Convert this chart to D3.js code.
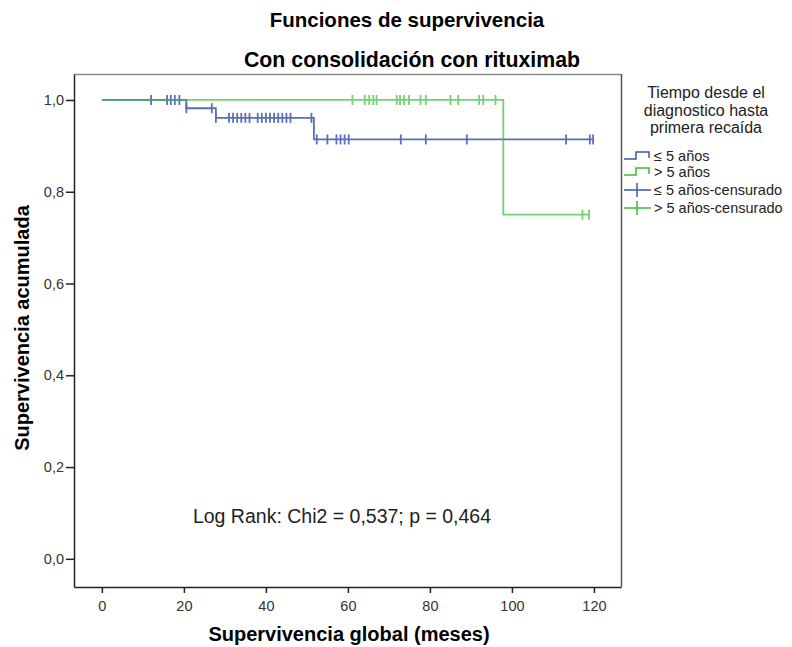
<!DOCTYPE html>
<html lang="es">
<head>
  <meta charset="UTF-8">
  <title>Funciones de supervivencia</title>
  <script src="https://d3js.org/d3.v7.min.js"></script>
  <style>
    body { margin: 0; background: #fff; }
    svg { display: block; font-family: "Liberation Sans", Arial, sans-serif; }
  </style>
</head>
<body>
  <svg id="chart"></svg>
  <script>
    // Kaplan-Meier steps (time in months, survival after the step)
    const blueStepTimes = [0, 20.6, 27.8, 51.7];
    const blueStepSurv = [1, 0.982, 0.961, 0.914];
    const blueEnd = 119.8;
    const blueCensorTimes = [12, 15.9, 16.8, 17.8, 18.9, 20.6, 26.8, 27.8, 31, 32, 33, 34, 35, 36, 38, 39, 40,
      41, 42, 43, 44, 45, 46, 51.1, 52.4, 55, 57.2, 58.2, 59.2, 60.2, 72.9, 79, 89, 113.2, 119, 119.8];

    const greenStepTimes = [0, 97.9];
    const greenStepSurv = [1, 0.75];
    const greenEnd = 118.8;
    const greenCensorTimes = [61.1, 64.1, 65.2, 66.2, 67, 71.9, 72.7, 73.7, 74.9, 77.7, 79, 85, 86.9,
      92, 93, 96, 117.2, 118.8];

    const xTicks = [0, 20, 40, 60, 80, 100, 120];
    const yTicks = [0, 0.2, 0.4, 0.6, 0.8, 1.0];
    const legendTitle = ["Tiempo desde el", "diagnostico hasta", "primera recaída"];
    const legendLabels = ["\u2264 5 años", "> 5 años", "\u2264 5 años-censurado", "> 5 años-censurado"];

    const width = 792, height = 647;
    const plot = { left: 74, right: 621, top: 74, bottom: 587 };
    const blue = "#3d57ab", green = "#3cbc3c";
    const font = "'Liberation Sans', Arial, sans-serif";

    const svg = d3.select("#chart").attr("width", width).attr("height", height);

    const x = d3.scaleLinear().domain([-6.8, 126.6]).range([plot.left, plot.right]);
    const y = d3.scaleLinear().domain([-0.0614, 1.0566]).range([plot.bottom, plot.top]);

    const locale = d3.formatLocale({ decimal: ",", thousands: ".", grouping: [3], currency: ["", "€"] });
    const fmt = locale.format(".1f");

    // frame
    svg.append("line").attr("x1", plot.left).attr("x2", plot.right)
      .attr("y1", plot.top + 0.5).attr("y2", plot.top + 0.5).attr("stroke", "#8a8a8a").attr("stroke-width", 1.5);
    svg.append("line").attr("x1", plot.right + 0.5).attr("x2", plot.right + 0.5)
      .attr("y1", plot.top).attr("y2", plot.bottom).attr("stroke", "#555").attr("stroke-width", 1.5);

    // axes
    const xAxis = svg.append("g").attr("transform", `translate(0,${plot.bottom})`)
      .call(d3.axisBottom(x).tickValues(xTicks).tickSize(6).tickPadding(8).tickSizeOuter(0));
    const yAxis = svg.append("g").attr("transform", `translate(${plot.left},0)`)
      .call(d3.axisLeft(y).tickValues(yTicks).tickFormat(fmt).tickSize(8).tickPadding(2).tickSizeOuter(0));
    [xAxis, yAxis].forEach(g => {
      g.select(".domain").attr("stroke", "#222").attr("stroke-width", 1.5);
      g.selectAll(".tick line").attr("stroke", "#222").attr("stroke-width", 1.5);
      g.selectAll(".tick text").attr("fill", "#333").style("font-size", "14.5px").style("font-family", font);
    });

    // step path builder
    function stepPoints(times, surv, end) {
      const pts = [];
      times.forEach((t, i) => {
        if (i > 0) pts.push([t, surv[i - 1]]);
        pts.push([t, surv[i]]);
      });
      pts.push([end, surv[surv.length - 1]]);
      return pts;
    }
    function survAt(times, surv, t) {
      let s = surv[0];
      times.forEach((tt, i) => { if (tt <= t) s = surv[i]; });
      return s;
    }
    const line = d3.line().x(d => x(d[0])).y(d => y(d[1]));

    const series = [
      { times: blueStepTimes, surv: blueStepSurv, end: blueEnd, censors: blueCensorTimes, color: blue, op: 0.85 },
      { times: greenStepTimes, surv: greenStepSurv, end: greenEnd, censors: greenCensorTimes, color: green, op: 0.7 }
    ];

    series.forEach(s => {
      const g = svg.append("g").attr("opacity", s.op);
      g.append("path").datum(stepPoints(s.times, s.surv, s.end))
        .attr("d", line).attr("fill", "none").attr("stroke", s.color).attr("stroke-width", 1.8);
      g.selectAll("line.censor").data(s.censors).enter().append("line")
        .attr("class", "censor")
        .attr("x1", d => x(d)).attr("x2", d => x(d))
        .attr("y1", d => y(survAt(s.times, s.surv, d)) - 5)
        .attr("y2", d => y(survAt(s.times, s.surv, d)) + 5)
        .attr("stroke", s.color).attr("stroke-width", 1.8);
    });

    // titles
    svg.append("text").attr("x", 407).attr("y", 27).attr("text-anchor", "middle")
      .style("font-size", "20.5px").style("font-weight", "bold").text("Funciones de supervivencia");
    svg.append("text").attr("x", 412).attr("y", 67).attr("text-anchor", "middle")
      .style("font-size", "21.3px").style("font-weight", "bold").text("Con consolidación con rituximab");
    svg.append("text").attr("x", 349).attr("y", 641).attr("text-anchor", "middle")
      .style("font-size", "20px").style("font-weight", "bold").text("Supervivencia global (meses)");
    svg.append("text").attr("transform", "translate(29,328) rotate(-90)").attr("text-anchor", "middle")
      .style("font-size", "20px").style("font-weight", "bold").text("Supervivencia acumulada");

    svg.append("text").attr("x", 342).attr("y", 523).attr("text-anchor", "middle")
      .attr("fill", "#222").style("font-size", "19.5px").text("Log Rank: Chi2 = 0,537; p = 0,464");

    // legend
    const leg = svg.append("g");
    legendTitle.forEach((t, i) => {
      leg.append("text").attr("x", 706).attr("y", 98 + i * 17.5).attr("text-anchor", "middle")
        .attr("fill", "#222").style("font-size", "16px").text(t);
    });
    const legendColors = [blue, green, blue, green];
    const legendY = [156, 172, 190, 208];
    legendLabels.forEach((lab, i) => {
      const cy = legendY[i];
      const c = legendColors[i];
      if (i < 2) {
        leg.append("path")
          .attr("d", `M624,${cy + 3}H636V${cy - 4}H649V${cy + 2}`)
          .attr("fill", "none").attr("stroke", c).attr("stroke-width", 1.5);
      } else {
        leg.append("line").attr("x1", 624).attr("x2", 651).attr("y1", cy).attr("y2", cy)
          .attr("stroke", c).attr("stroke-width", 1.5);
        leg.append("line").attr("x1", 637).attr("x2", 637).attr("y1", cy - 7).attr("y2", cy + 7)
          .attr("stroke", c).attr("stroke-width", 1.5);
      }
      leg.append("text").attr("x", 654).attr("y", cy + 5)
        .attr("fill", "#222").style("font-size", "14.5px").text(lab);
    });
  </script>
</body>
</html>
